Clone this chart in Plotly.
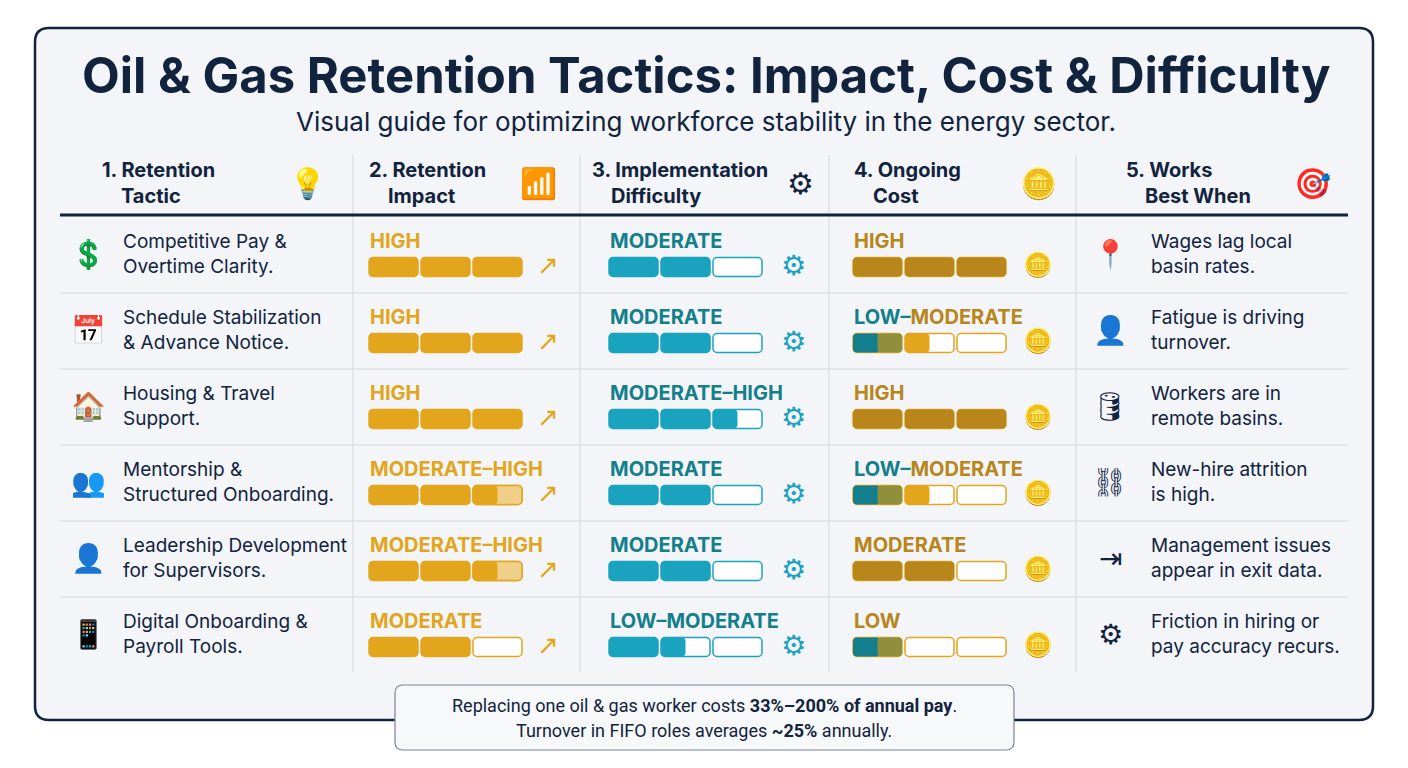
import plotly.graph_objects as go

# Daten
tactics = ["Competitive Pay &<br>Overtime Clarity.", "Schedule Stabilization<br>& Advance Notice.",
           "Housing & Travel<br>Support.", "Mentorship &<br>Structured Onboarding.",
           "Leadership Development<br>for Supervisors.", "Digital Onboarding &<br>Payroll Tools."]
impact = ["HIGH", "HIGH", "HIGH", "MODERATE–HIGH", "MODERATE–HIGH", "MODERATE"]
impact_score = [3, 3, 3, 2.5, 2.5, 2]
difficulty = ["MODERATE", "MODERATE", "MODERATE–HIGH", "MODERATE", "MODERATE", "LOW–MODERATE"]
difficulty_score = [2, 2, 2.5, 2, 2, 1.5]
cost = ["HIGH", "LOW–MODERATE", "HIGH", "LOW–MODERATE", "MODERATE", "LOW"]
cost_score = [3, 1.5, 3, 1.5, 2, 1]
best_when = ["Wages lag local<br>basin rates.", "Fatigue is driving<br>turnover.", "Workers are in<br>remote basins.",
             "New-hire attrition<br>is high.", "Management issues<br>appear in exit data.",
             "Friction in hiring or<br>pay accuracy recurs."]
headers = ["1. Retention<br>    Tactic", "2. Retention<br>    Impact", "3. Implementation<br>    Difficulty",
           "4. Ongoing<br>    Cost", "5. Works<br>    Best When"]
tactic_icons = ["💲", "📅", "🏠", "👥", "👤", "📱"]
best_icons = ["📍", "👤", "🛢", "⛓", "⇥", "⚙"]

NAVY = "#12233d"
GOLD = "#e2a51c"
TEAL = "#1aa3bf"
TEAL_T = "#137f8c"
BROWN = "#b8861a"

fig = go.Figure()
row_top = [218 + 76 * i for i in range(6)]
seg_w, gap = 49, 3

def bar(yc, w, base, color, edge=None):
    fig.add_trace(go.Bar(orientation="h", y=[yc], x=[w], base=[base], width=19,
                         marker=dict(color=color, line=dict(color=edge or color, width=1.5 if edge else 0),
                                     cornerradius=4),
                         showlegend=False, hoverinfo="skip"))

def draw_bars(x0, scores, full_col, edge_col, gradient=False):
    for i, s in enumerate(scores):
        yc = row_top[i] + 49
        for k in range(3):
            xs = x0 + k * (seg_w + gap)
            bar(yc, seg_w, xs, "white", edge_col)
            fill = min(max(s - k, 0), 1)
            if fill <= 0:
                continue
            if gradient and s < 2 and k == 0:
                bar(yc, seg_w * 0.55, xs, TEAL_T)
                bar(yc, seg_w * 0.5, xs + seg_w * 0.5, "#8f8f3c")
            elif fill < 1 and full_col == GOLD:
                bar(yc, seg_w, xs, "#f0d089", edge_col)
                bar(yc, seg_w * 0.5, xs, full_col)
            elif gradient and fill < 1:
                bar(yc, seg_w * fill, xs, GOLD)
            else:
                bar(yc, seg_w * fill, xs, full_col)

draw_bars(369, impact_score, GOLD, GOLD)
draw_bars(609, difficulty_score, TEAL, TEAL)
draw_bars(853, cost_score, BROWN, GOLD, gradient=True)

def rrect(x0, y0, x1, y1, r):
    return (f"M{x0+r},{y0} L{x1-r},{y0} Q{x1},{y0} {x1},{y0+r} L{x1},{y1-r} Q{x1},{y1} {x1-r},{y1} "
            f"L{x0+r},{y1} Q{x0},{y1} {x0},{y1-r} L{x0},{y0+r} Q{x0},{y0} {x0+r},{y0} Z")

shapes = [
    dict(type="path", path=rrect(35, 28, 1373, 720, 14), line=dict(color=NAVY, width=2.5), fillcolor="#f3f5f9", layer="below"),
    dict(type="line", x0=60, y0=215, x1=1348, y1=215, line=dict(color=NAVY, width=3)),
    dict(type="path", path=rrect(395, 685, 1014, 750, 8), line=dict(color="#7a8494", width=1.2), fillcolor="#f7f8fa"),
]
for xv in [353, 580, 829, 1076]:
    shapes.append(dict(type="line", x0=xv, y0=155, x1=xv, y1=672, line=dict(color="#d3d8e0", width=1), layer="below"))
for yv in row_top[1:]:
    shapes.append(dict(type="line", x0=60, y0=yv - 1, x1=1348, y1=yv - 1, line=dict(color="#d3d8e0", width=1), layer="below"))

ann = []
def txt(x, y, t, size, color=NAVY, anchor="left", bold=False, family="Inter"):
    ann.append(dict(x=x, y=y, text=f"<b>{t}</b>" if bold else t, showarrow=False, xanchor=anchor, yanchor="middle",
                    align=anchor if anchor != "center" else "center",
                    font=dict(size=size, color=color, family=family)))

txt(706, 75, "Oil & Gas Retention Tactics: Impact, Cost & Difficulty", 49, anchor="center", bold=True)
txt(706, 121, "Visual guide for optimizing workforce stability in the energy sector.", 26, anchor="center")
for x, h in zip([100, 367, 590, 852, 1124], headers):
    txt(x, 183, h, 20, bold=True)
for x, ic in zip([307, 538, 800, 1038, 1312], ["💡", "📶", "⚙", "🪙", "🎯"]):
    txt(x, 183, ic, 30, anchor="center", family="DejaVu Sans")

def level_html(label, col):
    if label.startswith("LOW–") and col != TEAL_T:
        return f"<span style='color:{TEAL_T}'>LOW–</span>" + label[4:]
    return label

for i in range(6):
    t = row_top[i]
    txt(121, t + 36, tactics[i], 19)
    txt(88, t + 36, tactic_icons[i], 28, anchor="center", family="DejaVu Sans")
    txt(368, t + 23, impact[i], 20, GOLD, bold=True)
    txt(608, t + 23, difficulty[i], 20, TEAL_T, bold=True)
    txt(852, t + 23, level_html(cost[i], BROWN), 20, BROWN, bold=True)
    txt(548, t + 47, "↗", 26, GOLD, anchor="center", family="DejaVu Sans")
    txt(793, t + 47, "⚙", 28, TEAL, anchor="center", family="DejaVu Sans")
    txt(1038, t + 47, "🪙", 24, GOLD, anchor="center", family="DejaVu Sans")
    txt(1110, t + 36, best_icons[i], 28, anchor="center", family="DejaVu Sans")
    txt(1149, t + 36, best_when[i], 19)

txt(704, 705, "Replacing one oil & gas worker costs <b>33%–200% of annual pay</b>.", 18, anchor="center", family="Roboto")
txt(704, 730, "Turnover in FIFO roles averages <b>~25%</b> annually.", 18, anchor="center", family="Roboto")

# page body adds ~8px offset; shift ranges to compensate
fig.update_layout(
    width=1408, height=768, margin=dict(l=0, r=0, t=0, b=0),
    paper_bgcolor="white", plot_bgcolor="white", barmode="overlay",
    xaxis=dict(range=[8, 1416], visible=False, fixedrange=True),
    yaxis=dict(range=[776, 8], visible=False, fixedrange=True),
    shapes=shapes, annotations=ann,
)

fig.write_html("out.html")
